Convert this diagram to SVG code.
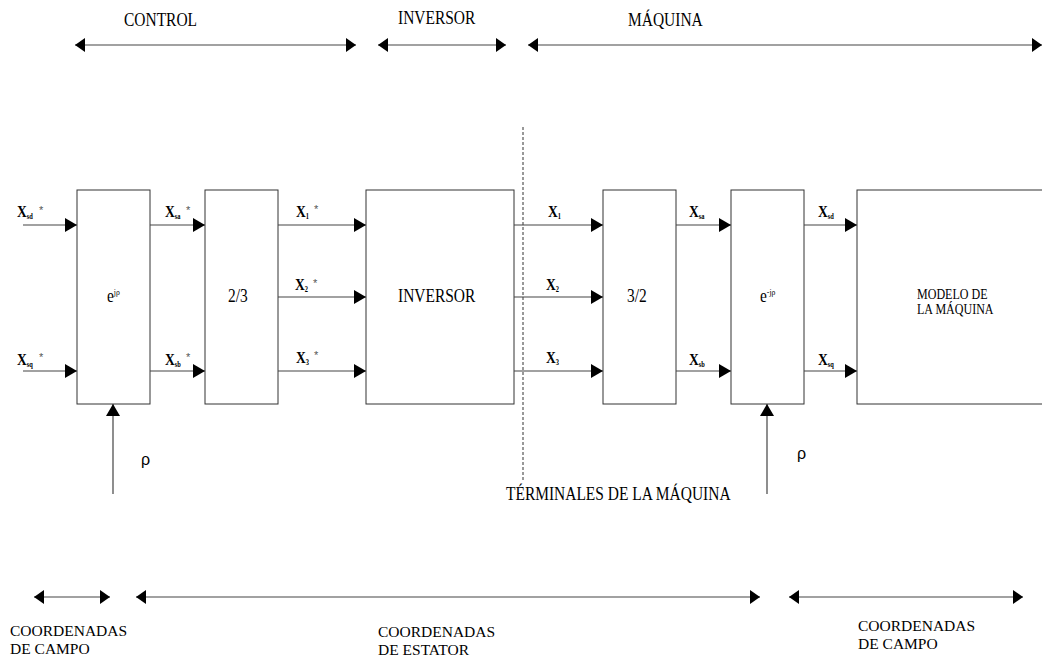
<svg xmlns="http://www.w3.org/2000/svg" width="1042" height="657" viewBox="0 0 1042 657">
<style>
.box{fill:#fff;stroke:#333;stroke-width:1}
.ln{stroke:#444;stroke-width:1.2;fill:none}
.t{font-family:'Liberation Serif','DejaVu Serif','Times New Roman',serif;font-size:18px;fill:#000}
.tb{font-family:'Liberation Serif','DejaVu Serif','Times New Roman',serif;font-size:15.5px;fill:#000}
.ts{font-family:'Liberation Serif','DejaVu Serif','Times New Roman',serif;font-size:14px;fill:#000}
.x{font-family:'Liberation Serif','DejaVu Serif','Times New Roman',serif;font-size:17px;font-weight:bold;fill:#000}
.sub{font-size:8px;font-weight:bold}
.ast{font-family:'Liberation Sans',Arial,sans-serif;font-size:11px;fill:#555}
.rho{font-family:'Liberation Sans',Arial,sans-serif;font-size:16px;fill:#000}
</style>
<defs>
<marker id="ah" markerUnits="userSpaceOnUse" markerWidth="13" markerHeight="14" refX="12" refY="7" orient="auto">
<path d="M0,0 L12,7 L0,14 z" fill="#000"/>
</marker>
<marker id="dh" markerUnits="userSpaceOnUse" markerWidth="11" markerHeight="14" refX="10" refY="7" orient="auto-start-reverse">
<path d="M0,0 L10,7 L0,14 z" fill="#000"/>
</marker>
</defs>
<rect width="1042" height="657" fill="#fff"/>

<g id="scope-top">
<text class="t" transform="translate(124,26) scale(.86,1)">CONTROL</text>
<text class="t" transform="translate(398,24) scale(.86,1)">INVERSOR</text>
<text class="t" transform="translate(628,26) scale(.86,1)">MÁQUINA</text>
</g>
<g id="scope-bottom">
<text class="tb" x="10" y="636">COORDENADAS</text>
<text class="tb" x="10" y="654">DE CAMPO</text>
<text class="tb" x="378" y="637">COORDENADAS</text>
<text class="tb" x="378" y="655">DE ESTATOR</text>
<text class="tb" x="858" y="631">COORDENADAS</text>
<text class="tb" x="858" y="649">DE CAMPO</text>
<text class="t" transform="translate(506,500) scale(.86,1)">TÉRMINALES DE LA MÁQUINA</text>
</g>

<g id="node-ejp"><rect class="box" x="77" y="190" width="73" height="214"/>
<text class="t" transform="translate(107,302) scale(.86,1)">e<tspan font-size="9" dy="-7">jρ</tspan></text></g>
<g id="node-23"><rect class="box" x="205" y="190" width="73" height="214"/>
<text class="t" transform="translate(228,302) scale(.86,1)">2/3</text></g>
<g id="node-inversor"><rect class="box" x="366" y="190" width="148" height="214"/>
<text class="t" transform="translate(398,302) scale(.86,1)">INVERSOR</text></g>
<g id="node-32"><rect class="box" x="603" y="190" width="73" height="214"/>
<text class="t" transform="translate(627,302) scale(.86,1)">3/2</text></g>
<g id="node-emjp"><rect class="box" x="731" y="190" width="73" height="214"/>
<text class="t" transform="translate(760,302) scale(.86,1)">e<tspan font-size="9" dy="-7">-jρ</tspan></text></g>
<g id="node-modelo"><rect class="box" x="857" y="190" width="190" height="214"/>
<text class="ts" transform="translate(917,299) scale(.86,1)">MODELO DE</text>
<text class="ts" transform="translate(917,314) scale(.86,1)">LA MÁQUINA</text></g>

<g id="connectors">
<line class="ln" x1="75" y1="45" x2="356" y2="45" marker-start="url(#dh)" marker-end="url(#dh)"/>
<line class="ln" x1="378" y1="45" x2="506" y2="45" marker-start="url(#dh)" marker-end="url(#dh)"/>
<line class="ln" x1="528" y1="45" x2="1042" y2="45" marker-start="url(#dh)" marker-end="url(#dh)"/>
<line class="ln" x1="34" y1="597" x2="110" y2="597" marker-start="url(#dh)" marker-end="url(#dh)"/>
<line class="ln" x1="136" y1="597" x2="760" y2="597" marker-start="url(#dh)" marker-end="url(#dh)"/>
<line class="ln" x1="789" y1="597" x2="1023" y2="597" marker-start="url(#dh)" marker-end="url(#dh)"/>

<line x1="523" y1="127" x2="523" y2="482" stroke="#333" stroke-width="1" stroke-dasharray="3,2"/>

<line class="ln" x1="23" y1="225" x2="77" y2="225" marker-end="url(#ah)"/>
<line class="ln" x1="23" y1="371" x2="77" y2="371" marker-end="url(#ah)"/>
<line class="ln" x1="150" y1="225" x2="205" y2="225" marker-end="url(#ah)"/>
<line class="ln" x1="150" y1="371" x2="205" y2="371" marker-end="url(#ah)"/>
<line class="ln" x1="278" y1="225" x2="366" y2="225" marker-end="url(#ah)"/>
<line class="ln" x1="278" y1="297" x2="366" y2="297" marker-end="url(#ah)"/>
<line class="ln" x1="278" y1="371" x2="366" y2="371" marker-end="url(#ah)"/>
<line class="ln" x1="514" y1="225" x2="603" y2="225" marker-end="url(#ah)"/>
<line class="ln" x1="514" y1="297" x2="603" y2="297" marker-end="url(#ah)"/>
<line class="ln" x1="514" y1="371" x2="603" y2="371" marker-end="url(#ah)"/>
<line class="ln" x1="676" y1="225" x2="731" y2="225" marker-end="url(#ah)"/>
<line class="ln" x1="676" y1="371" x2="731" y2="371" marker-end="url(#ah)"/>
<line class="ln" x1="804" y1="225" x2="857" y2="225" marker-end="url(#ah)"/>
<line class="ln" x1="804" y1="371" x2="857" y2="371" marker-end="url(#ah)"/>
<line class="ln" x1="113" y1="494" x2="113" y2="404" stroke="#777" marker-end="url(#ah)"/>
<line class="ln" x1="767" y1="494" x2="767" y2="404" marker-end="url(#ah)"/>
</g>

<g id="labels">
<text class="x" transform="translate(17,217) scale(.8,1)">X<tspan class="sub" dy="2">sd</tspan></text><text class="ast" x="39" y="214">*</text>
<text class="x" transform="translate(17,365) scale(.8,1)">X<tspan class="sub" dy="2">sq</tspan></text><text class="ast" x="39" y="361">*</text>
<text class="x" transform="translate(165,217) scale(.8,1)">X<tspan class="sub" dy="2">sa</tspan></text><text class="ast" x="186" y="214">*</text>
<text class="x" transform="translate(165,365) scale(.8,1)">X<tspan class="sub" dy="2">sb</tspan></text><text class="ast" x="186" y="361">*</text>
<text class="x" transform="translate(296,217) scale(.8,1)">X<tspan class="sub" dy="2">1</tspan></text><text class="ast" x="314" y="213">*</text>
<text class="x" transform="translate(295,290) scale(.8,1)">X<tspan class="sub" dy="2">2</tspan></text><text class="ast" x="313" y="287" fill="#000">*</text>
<text class="x" transform="translate(296,363) scale(.8,1)">X<tspan class="sub" dy="2">3</tspan></text><text class="ast" x="314" y="359">*</text>
<text class="x" transform="translate(548,217) scale(.8,1)">X<tspan class="sub" dy="2">1</tspan></text>
<text class="x" transform="translate(546,290) scale(.8,1)">X<tspan class="sub" dy="2">2</tspan></text>
<text class="x" transform="translate(546,363) scale(.8,1)">X<tspan class="sub" dy="2">3</tspan></text>
<text class="x" transform="translate(689,217) scale(.8,1)">X<tspan class="sub" dy="2">sa</tspan></text>
<text class="x" transform="translate(689,365) scale(.8,1)">X<tspan class="sub" dy="2">sb</tspan></text>
<text class="x" transform="translate(818,217) scale(.8,1)">X<tspan class="sub" dy="2">sd</tspan></text>
<text class="x" transform="translate(818,365) scale(.8,1)">X<tspan class="sub" dy="2">sq</tspan></text>
<text class="rho" x="141" y="465">ρ</text>
<text class="rho" x="797" y="459">ρ</text>
</g>
</svg>
